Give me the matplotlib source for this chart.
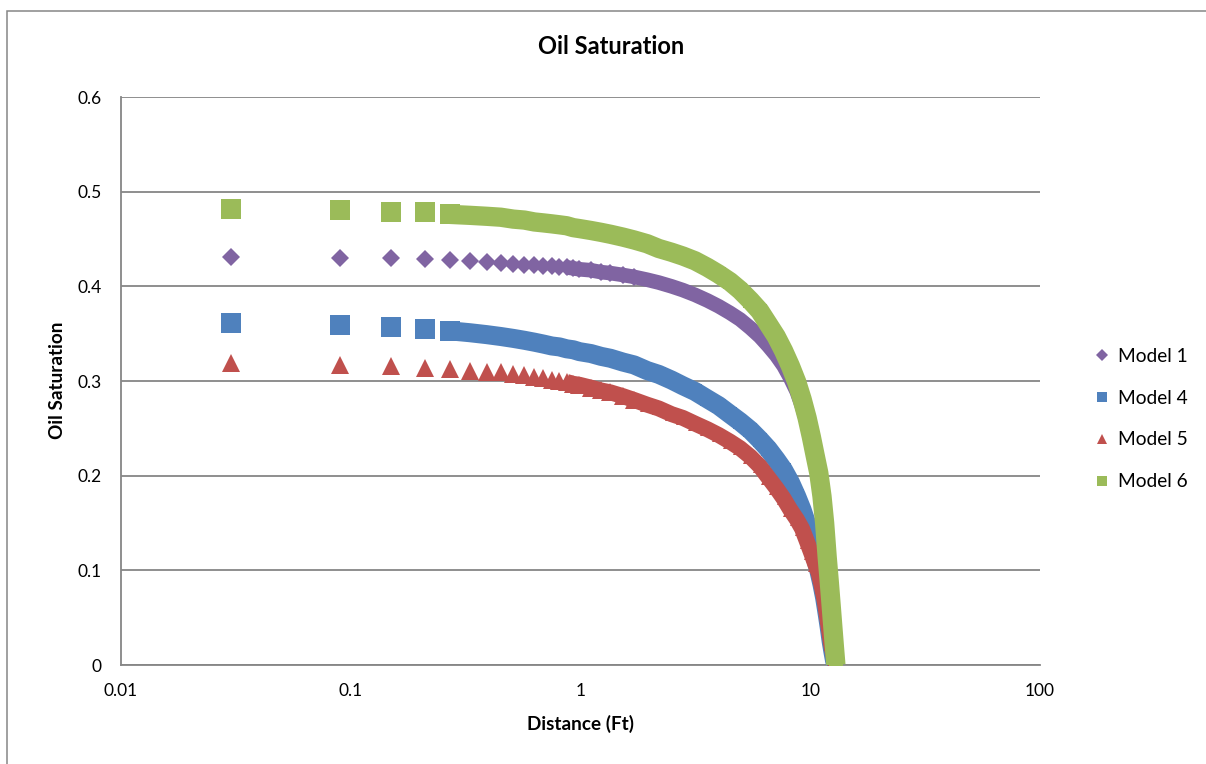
import matplotlib
matplotlib.use("Agg")
import matplotlib.pyplot as plt
from matplotlib.lines import Line2D
from matplotlib.patches import Rectangle
from matplotlib.ticker import FixedLocator, FixedFormatter, NullLocator

plt.rcParams['font.family'] = ['Lato', 'DejaVu Sans']

# distance (ft) of the sampled grid cells
distance = [0.03, 0.09, 0.15, 0.21, 0.27, 0.33, 0.39, 0.45, 0.51, 0.57,
            0.63, 0.69, 0.75, 0.81, 0.87, 0.93, 0.99, 1.11, 1.23, 1.35,
            1.53, 1.71, 1.95, 2.19, 2.49, 2.79, 3.15, 3.57, 3.99, 4.47,
            4.95, 5.49, 6.03, 6.57, 7.11, 7.65, 8.19, 8.73, 9.21, 9.69,
            10.11, 10.53, 10.89, 11.25, 11.55, 11.85, 12.09, 12.33, 12.57, 12.75,
            12.93]

model1 = [0.431, 0.430, 0.430, 0.429, 0.428, 0.427, 0.426, 0.425, 0.424, 0.423,
          0.423, 0.422, 0.421, 0.420, 0.420, 0.419, 0.418, 0.417, 0.415, 0.414,
          0.412, 0.410, 0.407, 0.404, 0.400, 0.396, 0.391, 0.385, 0.379, 0.372,
          0.365, 0.356, 0.347, 0.337, 0.327, 0.316, 0.303, 0.289, 0.273, 0.255,
          0.235, 0.214, 0.195, 0.166, 0.139, 0.103, 0.079, 0.054, 0.030, 0.013,
          0.000]

model4 = [0.361, 0.359, 0.357, 0.355, 0.353, 0.351, 0.349, 0.347, 0.345, 0.343,
          0.341, 0.339, 0.337, 0.336, 0.334, 0.333, 0.331, 0.329, 0.326, 0.324,
          0.320, 0.317, 0.311, 0.307, 0.301, 0.295, 0.289, 0.281, 0.274, 0.265,
          0.257, 0.248, 0.238, 0.228, 0.217, 0.206, 0.193, 0.178, 0.164, 0.148,
          0.130, 0.113, 0.100, 0.085, 0.071, 0.054, 0.040, 0.025, 0.013, 0.005,
          0.000]

model5 = [0.319, 0.317, 0.316, 0.314, 0.313, 0.311, 0.310, 0.309, 0.307, 0.306,
          0.304, 0.303, 0.301, 0.300, 0.299, 0.297, 0.296, 0.293, 0.290, 0.288,
          0.284, 0.280, 0.275, 0.271, 0.265, 0.261, 0.255, 0.249, 0.243, 0.236,
          0.229, 0.220, 0.210, 0.198, 0.187, 0.176, 0.164, 0.154, 0.144, 0.130,
          0.118, 0.106, 0.097, 0.082, 0.068, 0.050, 0.036, 0.022, 0.012, 0.005,
          0.000]

model6 = [0.482, 0.481, 0.479, 0.478, 0.476, 0.475, 0.474, 0.473, 0.471, 0.470,
          0.468, 0.467, 0.466, 0.465, 0.464, 0.462, 0.461, 0.459, 0.457, 0.455,
          0.452, 0.449, 0.445, 0.440, 0.436, 0.432, 0.427, 0.420, 0.413, 0.405,
          0.396, 0.385, 0.374, 0.360, 0.347, 0.332, 0.316, 0.299, 0.281, 0.261,
          0.241, 0.220, 0.203, 0.178, 0.150, 0.114, 0.089, 0.063, 0.037, 0.018,
          0.000]

labels = ['Model 1', 'Model 4', 'Model 5', 'Model 6']
x_ticks = [0.01, 0.1, 1, 10, 100]
x_tick_labels = ['0.01', '0.1', '1', '10', '100']
y_ticks = [0, 0.1, 0.2, 0.3, 0.4, 0.5, 0.6]

grey = '#868686'

# marker, colour, full marker size, small marker size, band width,
# index where the band starts, index from which markers sit inside the band
styles = [
    ('D', '#8064A2', 9.2, 6.5, 10.5, 14, 22),
    ('s', '#4F81BD', 13.7, 9.5, 13.7, 4, 5),
    ('^', '#C0504D', 13.5, 9.5, 11.5, 14, 22),
    ('s', '#9BBB59', 13.7, 9.5, 13.9, 4, 5),
]

fig = plt.figure(figsize=(12.06, 7.64), dpi=100)
ax = fig.add_axes([121 / 1206, 1 - 665 / 764, 919 / 1206, 568 / 764])

series = [model1, model4, model5, model6]
for i, (ys, (mk, col, ms, ms_small, lw, band, inner)) in enumerate(zip(series, styles)):
    z = 3 + i
    ax.plot(distance[band:], ys[band:], color=col, lw=lw,
            solid_joinstyle='round', solid_capstyle='butt', zorder=z)
    ax.plot(distance[:inner], ys[:inner], ls='none', marker=mk, ms=ms,
            color=col, mew=0, zorder=z)
    ax.plot(distance[inner:], ys[inner:], ls='none', marker=mk, ms=ms_small,
            color=col, mew=0, zorder=z)

ax.set_xscale('log')
ax.set_xlim(0.01, 100)
ax.set_ylim(0, 0.6)
ax.xaxis.set_major_locator(FixedLocator(x_ticks))
ax.xaxis.set_major_formatter(FixedFormatter(x_tick_labels))
ax.xaxis.set_minor_locator(NullLocator())
ax.set_yticks(y_ticks)
ax.set_yticklabels(['0', '0.1', '0.2', '0.3', '0.4', '0.5', '0.6'])
ax.tick_params(axis='both', length=0, labelsize=12.5, colors='black')
ax.tick_params(axis='x', pad=13)
ax.tick_params(axis='y', pad=14)

ax.yaxis.grid(True, color=grey, lw=1.3)
ax.set_axisbelow(True)
for s in ['top', 'right']:
    ax.spines[s].set_visible(False)
for s in ['left', 'bottom']:
    ax.spines[s].set_color(grey)
    ax.spines[s].set_linewidth(1.3)

ax.set_xlabel('Distance (Ft)', fontsize=13.6, fontweight='bold')
ax.set_ylabel('Oil Saturation', fontsize=13.6, fontweight='bold')
ax.xaxis.set_label_coords(0.4995, -0.087)
ax.yaxis.set_label_coords(-0.060, 0.502)

fig.text(611 / 1206, 1 - 47 / 764, 'Oil Saturation', ha='center', va='center',
         fontsize=17, fontweight='bold')

handles = []
leg_sizes = [5.8, 7.2, 7.6, 7.2]
for (mk, col, *_), lms in zip(styles, leg_sizes):
    handles.append(Line2D([], [], ls='none', marker=mk, ms=lms, color=col, mew=0))
fig.legend(handles, labels, loc='center left', bbox_to_anchor=(1093 / 1206, 1 - 419 / 764),
           frameon=False, fontsize=13.8, handlelength=0.9, handletextpad=0.4,
           labelspacing=1.3, borderpad=0, borderaxespad=0)

# outer chart border
fig.patches.append(Rectangle((7 / 1206, -0.1), 1.2, 1 - 11 / 764 + 0.1,
                             transform=fig.transFigure, fill=False,
                             ec=grey, lw=1.1))

fig.savefig('out.png', dpi=100)
